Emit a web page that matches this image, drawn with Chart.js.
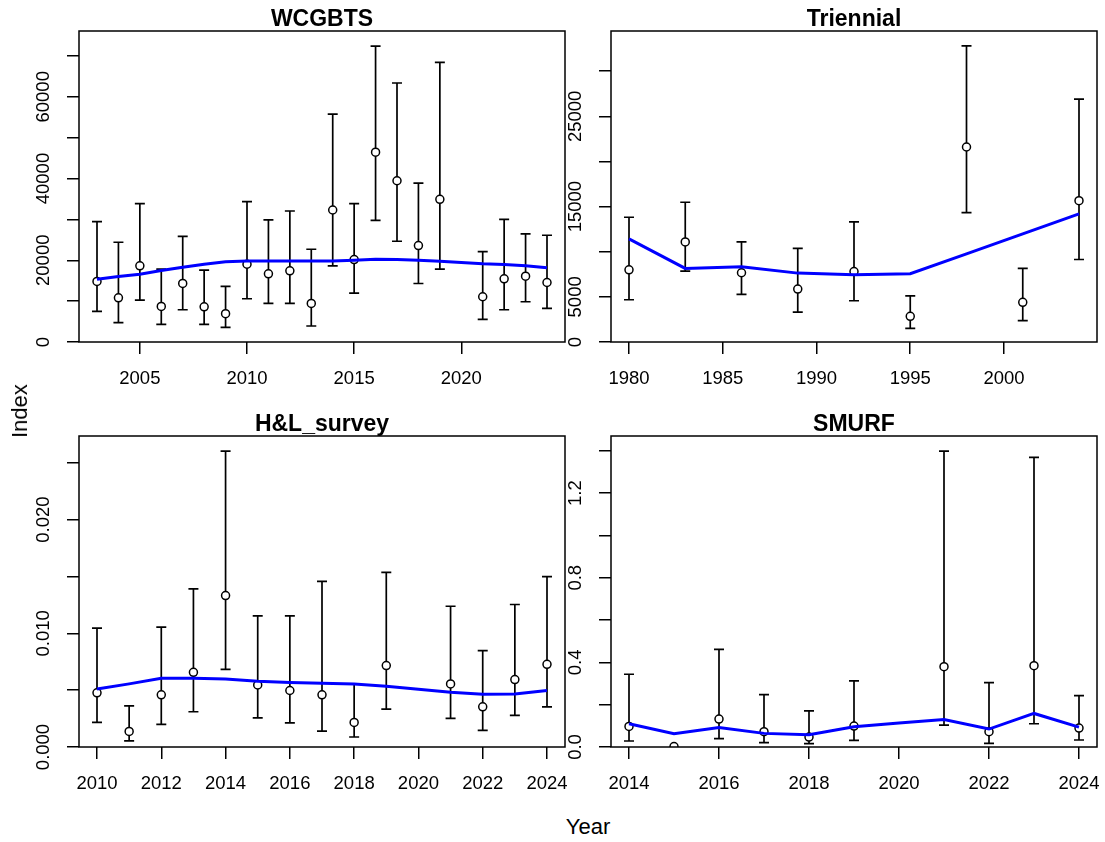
<!DOCTYPE html>
<html>
<head>
<meta charset="utf-8">
<script src="https://cdn.jsdelivr.net/npm/chart.js@4/dist/chart.umd.min.js"></script>
<style>
  html, body { margin: 0; padding: 0; background: #fff; }
  #wrap { position: relative; width: 1105px; height: 842px; overflow: hidden; font-family: "Liberation Sans", Arial, sans-serif; }
  .panel { position: absolute; }
  .lab { position: absolute; font-size: 22px; color: #000; white-space: nowrap; }
  #ylab { left: 20px; top: 411px; transform: translate(-50%, -50%) rotate(-90deg); }
  #xlab { left: 588px; top: 827px; transform: translate(-50%, -50%); }
</style>
</head>
<body>
<div id="wrap">
  <canvas id="c1" class="panel" width="590" height="400" style="left:0;top:0"></canvas>
  <canvas id="c2" class="panel" width="573" height="400" style="left:532px;top:0"></canvas>
  <canvas id="c3" class="panel" width="590" height="400" style="left:0;top:405px"></canvas>
  <canvas id="c4" class="panel" width="573" height="400" style="left:532px;top:405px"></canvas>
  <div id="ylab" class="lab">Index</div>
  <div id="xlab" class="lab">Year</div>
</div>
<script>
"use strict";

// WCGBTS
const WC_YEARS = [2003, 2004, 2005, 2006, 2007, 2008, 2009, 2010, 2011, 2012, 2013, 2014, 2015, 2016, 2017, 2018, 2019, 2021, 2022, 2023, 2024];
const WC_OBS = [14810, 10820, 18630, 8710, 14320, 8620, 6920, 19040, 16680, 17410, 9440, 32300, 20180, 46460, 39460, 23600, 34910, 11070, 15460, 16110, 14560];
const WC_LO = [7490, 4720, 10250, 4310, 7890, 4310, 3580, 10580, 9440, 9440, 3910, 18630, 11960, 29780, 24650, 14320, 17820, 5530, 7890, 9850, 8220];
const WC_HI = [29450, 24410, 33850, 17820, 25870, 17580, 13590, 34340, 29860, 32060, 22700, 55740, 33850, 72420, 63380, 38890, 68430, 22130, 30020, 26440, 26120];
const WC_FIT_YEARS = [2003, 2004, 2005, 2006, 2007, 2008, 2009, 2010, 2011, 2012, 2013, 2014, 2015, 2016, 2017, 2018, 2019, 2020, 2021, 2022, 2023, 2024];
const WC_FIT = [15380, 16030, 16600, 17490, 18310, 19040, 19610, 19850, 19850, 19850, 19850, 19850, 20020, 20260, 20180, 20020, 19770, 19450, 19120, 18960, 18630, 18150];
const WC_XTICKS = [2005, 2010, 2015, 2020];
const WC_YTICKS = [0, 10000, 20000, 30000, 40000, 50000, 60000, 70000];
const WC_YLABELS = ["0", "", "20000", "", "40000", "", "60000", ""];

// Triennial
const TR_YEARS = [1980, 1983, 1986, 1989, 1992, 1995, 1998, 2001, 2004];
const TR_OBS = [8000, 11090, 7670, 5860, 7810, 2840, 21600, 4390, 15660];
const TR_LO = [4680, 7850, 5270, 3320, 4570, 1510, 14340, 2360, 9140];
const TR_HI = [13820, 15480, 11090, 10360, 13300, 5120, 32800, 8150, 26900];
const TR_FIT = [11430, 8150, 8330, 7630, 7450, 7560, 9770, 11980, 14190];
const TR_XTICKS = [1980, 1985, 1990, 1995, 2000];
const TR_YTICKS = [0, 5000, 10000, 15000, 20000, 25000, 30000];
const TR_YLABELS = ["0", "5000", "", "15000", "", "25000", ""];

// H&L_survey
const HL_YEARS = [2010, 2011, 2012, 2013, 2014, 2015, 2016, 2017, 2018, 2019, 2021, 2022, 2023, 2024];
const HL_OBS = [0.00476, 0.00137, 0.00459, 0.00657, 0.01332, 0.00546, 0.00497, 0.00459, 0.00216, 0.00716, 0.00555, 0.00353, 0.00593, 0.00727];
const HL_LO = [0.00216, 0.00053, 0.00199, 0.00310, 0.00683, 0.00257, 0.00213, 0.00140, 0.00088, 0.00333, 0.00251, 0.00146, 0.00278, 0.00353];
const HL_HI = [0.01046, 0.00362, 0.01054, 0.01390, 0.02602, 0.01154, 0.01154, 0.01457, 0.00555, 0.01536, 0.01238, 0.00847, 0.01253, 0.01498];
const HL_FIT_YEARS = [2010, 2011, 2012, 2013, 2014, 2015, 2016, 2017, 2018, 2019, 2020, 2021, 2022, 2023, 2024];
const HL_FIT = [0.00511, 0.00555, 0.00605, 0.00605, 0.00599, 0.00578, 0.00567, 0.00561, 0.00555, 0.00535, 0.00508, 0.00482, 0.00464, 0.00467, 0.00497];
const HL_XTICKS = [2010, 2012, 2014, 2016, 2018, 2020, 2022, 2024];
const HL_YTICKS = [0, 0.005, 0.010, 0.015, 0.020, 0.025];
const HL_YLABELS = ["0.000", "", "0.010", "", "0.020", ""];

// SMURF
const SM_YEARS = [2014, 2015, 2016, 2017, 2018, 2019, 2021, 2022, 2023, 2024];
const SM_OBS = [0.0973, 0.002, 0.1319, 0.0722, 0.0471, 0.0989, 0.3799, 0.0722, 0.3846, 0.0895];
const SM_LO = [0.0283, null, 0.0392, 0.0204, 0.0157, 0.0314, 0.1036, 0.0173, 0.1099, 0.0330];
const SM_HI = [0.3438, null, 0.4615, 0.2480, 0.1711, 0.3124, 1.3987, 0.3046, 1.3689, 0.2433];
const SM_FIT_YEARS = [2014, 2015, 2016, 2017, 2018, 2019, 2020, 2021, 2022, 2023, 2024];
const SM_FIT = [0.1099, 0.0628, 0.0926, 0.0644, 0.0581, 0.0958, 0.1130, 0.1303, 0.0848, 0.1586, 0.0942];
const SM_XTICKS = [2014, 2016, 2018, 2020, 2022, 2024];
const SM_YTICKS = [0, 0.2, 0.4, 0.6, 0.8, 1.0, 1.2, 1.4];
const SM_YLABELS = ["0.0", "", "0.4", "", "0.8", "", "1.2", ""];

const FONT = '"Liberation Sans", Arial, sans-serif';
const TICK_PX = 18.5;
const BOX_W = 486;

Chart.defaults.font.family = FONT;
Chart.defaults.color = "#000";

// R-style box around the plot region
const boxPlugin = {
  id: "rbox",
  afterDatasetsDraw(chart) {
    const a = chart.chartArea, ctx = chart.ctx;
    ctx.save();
    ctx.strokeStyle = "#000";
    ctx.lineWidth = 1.5;
    ctx.strokeRect(a.left, a.top, a.right - a.left, a.bottom - a.top);
    ctx.restore();
  },
};

// vertical interval bars with flat caps
const errPlugin = {
  id: "errbars",
  beforeDatasetsDraw(chart, args, o) {
    const { ctx, scales: { x, y } } = chart;
    ctx.save();
    ctx.strokeStyle = "#000";
    ctx.lineWidth = 1.7;
    o.years.forEach((yr, i) => {
      if (o.lo[i] == null) return;
      const px = x.getPixelForValue(yr);
      const p1 = y.getPixelForValue(o.lo[i]);
      const p2 = y.getPixelForValue(o.hi[i]);
      ctx.beginPath();
      ctx.moveTo(px, p1); ctx.lineTo(px, p2);
      ctx.moveTo(px - 5, p1); ctx.lineTo(px + 5, p1);
      ctx.moveTo(px - 5, p2); ctx.lineTo(px + 5, p2);
      ctx.stroke();
    });
    ctx.restore();
  },
};

function yPadding(labels) {
  // centre the rotated labels 35px left of the box
  const c = document.createElement("canvas").getContext("2d");
  c.font = `${TICK_PX}px ${FONT}`;
  const w = Math.max(...labels.map((l) => c.measureText(l).width));
  return 35 - 12 - w / 2;
}

function panel(id, title, p) {
  const canvas = document.getElementById(id);
  const padRight = canvas.width - 79 - BOX_W;
  return new Chart(canvas, {
    type: "line",
    data: {
      datasets: [
        {
          data: p.fitYears.map((x, i) => ({ x, y: p.fit[i] })),
          borderColor: "#0000ff", borderWidth: 3, pointRadius: 0, tension: 0, order: 0,
        },
        {
          data: p.years.map((x, i) => ({ x, y: p.obs[i] })),
          showLine: false, pointRadius: 4, pointBackgroundColor: "#fff",
          pointBorderColor: "#000", pointBorderWidth: 1.5, clip: 0, order: 1,
        },
      ],
    },
    options: {
      responsive: false, animation: false, devicePixelRatio: 1,
      layout: { padding: { left: 0, right: padRight, top: 0, bottom: 0 } },
      plugins: {
        legend: { display: false }, tooltip: { enabled: false },
        title: {
          display: true, text: title, fullSize: false, color: "#000",
          font: { size: 23, weight: "bold", lineHeight: 1 }, padding: { top: 8, bottom: 0 },
        },
        errbars: { years: p.years, lo: p.lo, hi: p.hi },
      },
      scales: {
        x: {
          type: "linear", min: p.xlim[0], max: p.xlim[1],
          afterBuildTicks: (s) => { s.ticks = p.xticks.map((v) => ({ value: v })); },
          afterFit: (s) => { s.height = 58; s.paddingLeft = 0; s.paddingRight = 0; },
          ticks: { autoSkip: false, maxRotation: 0, padding: 14, font: { size: TICK_PX }, callback: (v) => String(v) },
          grid: { drawOnChartArea: false, drawTicks: true, tickLength: 12, color: "#000", lineWidth: 1.5 },
          border: { display: false },
        },
        y: {
          type: "linear", min: 0, max: p.ymax,
          afterBuildTicks: (s) => { s.ticks = p.yticks.map((v) => ({ value: v })); },
          afterFit: (s) => { s.width = 79; s.paddingTop = 0; s.paddingBottom = 0; },
          ticks: {
            autoSkip: false, minRotation: 90, maxRotation: 90, crossAlign: "center",
            padding: yPadding(p.ylabels), font: { size: TICK_PX },
            callback: (v, i) => p.ylabels[i],
          },
          grid: { drawOnChartArea: false, drawTicks: true, tickLength: 12, color: "#000", lineWidth: 1.5 },
          border: { display: false },
        },
      },
    },
    plugins: [errPlugin, boxPlugin],
  });
}

panel("c1", "WCGBTS", {
  years: WC_YEARS, obs: WC_OBS, lo: WC_LO, hi: WC_HI, fitYears: WC_FIT_YEARS, fit: WC_FIT,
  xlim: [2002.16, 2024.84], ymax: 76100, xticks: WC_XTICKS, yticks: WC_YTICKS, ylabels: WC_YLABELS,
});
panel("c2", "Triennial", {
  years: TR_YEARS, obs: TR_OBS, lo: TR_LO, hi: TR_HI, fitYears: TR_YEARS, fit: TR_FIT,
  xlim: [1979.04, 2004.96], ymax: 34450, xticks: TR_XTICKS, yticks: TR_YTICKS, ylabels: TR_YLABELS,
});
panel("c3", "H&L_survey", {
  years: HL_YEARS, obs: HL_OBS, lo: HL_LO, hi: HL_HI, fitYears: HL_FIT_YEARS, fit: HL_FIT,
  xlim: [2009.44, 2024.56], ymax: 0.02735, xticks: HL_XTICKS, yticks: HL_YTICKS, ylabels: HL_YLABELS,
});
panel("c4", "SMURF", {
  years: SM_YEARS, obs: SM_OBS, lo: SM_LO, hi: SM_HI, fitYears: SM_FIT_YEARS, fit: SM_FIT,
  xlim: [2013.6, 2024.4], ymax: 1.47, xticks: SM_XTICKS, yticks: SM_YTICKS, ylabels: SM_YLABELS,
});
</script>
</body>
</html>
